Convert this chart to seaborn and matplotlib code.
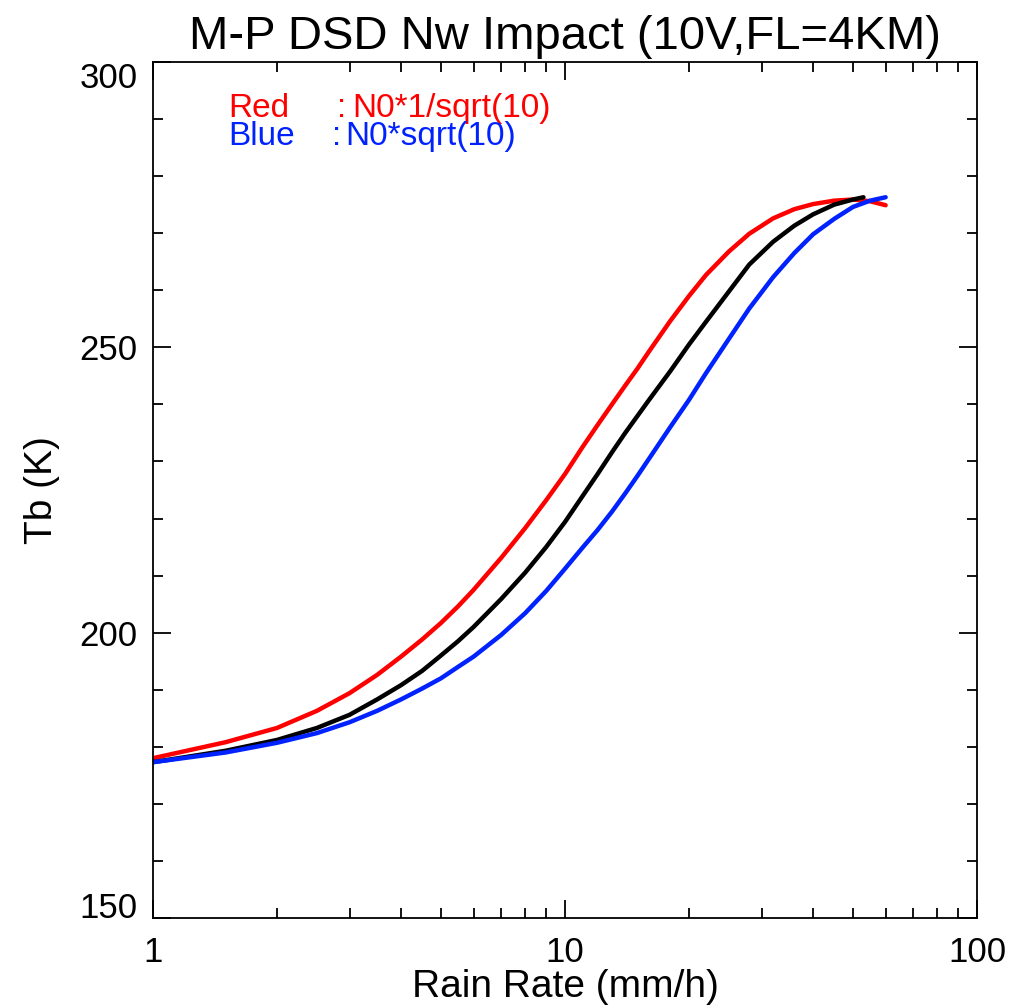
import matplotlib
matplotlib.use("Agg")
import matplotlib.pyplot as plt
import seaborn as sns
import pandas as pd
from matplotlib.ticker import LogLocator, MultipleLocator, FixedLocator, FixedFormatter

# ---- data ----
rain_red = [1, 1.5, 2, 2.5, 3, 3.5, 4, 4.5, 5, 5.5, 6, 7, 8, 9, 10, 11, 12, 13, 14, 15, 16, 18, 20,
            22, 25, 28, 32, 36, 40, 45, 50, 55, 60]
tb_red = [178.0, 180.8, 183.3, 186.3, 189.4, 192.6, 195.8, 198.8, 201.7, 204.6, 207.5, 213.1, 218.3,
          223.2, 227.8, 232.4, 236.4, 240.0, 243.3, 246.3, 249.3, 254.6, 259.0, 262.7, 266.8, 269.9,
          272.6, 274.2, 275.1, 275.7, 275.9, 275.6, 274.9]

rain_black = [1, 1.5, 2, 2.5, 3, 3.5, 4, 4.5, 5, 5.5, 6, 7, 8, 9, 10, 11, 12, 13, 14, 15, 16, 18, 20,
              22, 25, 28, 32, 36, 40, 45, 50, 53]
tb_black = [177.3, 179.3, 181.2, 183.3, 185.6, 188.3, 190.8, 193.3, 196.0, 198.5, 201.0, 205.9, 210.5,
            215.0, 219.4, 223.8, 227.8, 231.6, 235.0, 238.0, 240.8, 245.8, 250.5, 254.5, 259.8, 264.5,
            268.5, 271.3, 273.3, 275.0, 275.9, 276.3]

rain_blue = [1, 1.5, 2, 2.5, 3, 3.5, 4, 4.5, 5, 5.5, 6, 7, 8, 9, 10, 11, 12, 13, 14, 15, 16, 18, 20,
             22, 25, 28, 32, 36, 40, 45, 50, 55, 60]
tb_blue = [177.3, 179.0, 180.7, 182.4, 184.3, 186.3, 188.3, 190.2, 192.0, 194.0, 195.8, 199.6, 203.4,
           207.3, 211.2, 214.8, 218.0, 221.2, 224.4, 227.5, 230.5, 236.0, 240.8, 245.5, 251.5, 256.8,
           262.3, 266.5, 269.8, 272.5, 274.6, 275.7, 276.3]

series_names = ["N0*1/sqrt(10)", "N0", "N0*sqrt(10)"]
series_colors = ["#ff0000", "#000000", "#0022ff"]

title = "M-P DSD Nw Impact (10V,FL=4KM)"
xlabel = "Rain Rate (mm/h)"
ylabel = "Tb (K)"
xticks = [1, 10, 100]
xticklabels = ["1", "10", "100"]
yticks = [150, 200, 250, 300]
legend_names = ["Red", "Blue"]
legend_texts = ["N0*1/sqrt(10)", "N0*sqrt(10)"]

df = pd.concat([
    pd.DataFrame({"rain": rain_red, "tb": tb_red, "case": series_names[0]}),
    pd.DataFrame({"rain": rain_black, "tb": tb_black, "case": series_names[1]}),
    pd.DataFrame({"rain": rain_blue, "tb": tb_blue, "case": series_names[2]}),
])

sns.set_style("ticks")
plt.rcParams["font.family"] = ["Liberation Sans", "DejaVu Sans"]
plt.rcParams["text.color"] = "black"
plt.rcParams["axes.labelcolor"] = "black"
plt.rcParams["xtick.color"] = "black"
plt.rcParams["ytick.color"] = "black"

fig = plt.figure(figsize=(10.15, 10.08), dpi=100)
ax = fig.add_axes([0.1507, 0.0893, 0.8119, 0.8492])

sns.lineplot(data=df, x="rain", y="tb", hue="case", hue_order=series_names,
             palette=dict(zip(series_names, series_colors)), linewidth=3.2,
             legend=False, ax=ax, sort=True, estimator=None)

ax.set_xscale("log")
ax.set_xlim(1, 100)
ax.set_ylim(150, 300)
ax.xaxis.set_major_locator(FixedLocator(xticks))
ax.xaxis.set_major_formatter(FixedFormatter(xticklabels))
ax.xaxis.set_minor_locator(LogLocator(base=10, subs=range(2, 10)))
ax.yaxis.set_major_locator(FixedLocator(yticks))
ax.yaxis.set_minor_locator(MultipleLocator(10))

ax.tick_params(which="both", direction="in", top=True, right=True, width=1.3, colors="black")
ax.tick_params(which="major", length=13, labelsize=25)
ax.tick_params(axis="x", which="major", pad=13)
ax.tick_params(axis="y", which="major", pad=11)
ax.tick_params(which="minor", length=7)
for s in ax.spines.values():
    s.set_linewidth(1.3)
    s.set_color("black")

ax.set_xlabel(xlabel, fontsize=28, labelpad=0)
ax.set_ylabel(ylabel, fontsize=28, labelpad=14)
ax.set_title(title, fontsize=34, pad=9)

fig.canvas.draw()
ylabs = ax.get_yticklabels()
ylabs[0].set_va("baseline")
ylabs[-1].set_va("top")

# legend text pieces (name, colon, description)
name_x = 0.091
colon_x = [0.2233, 0.2172]
desc_x = [0.2415, 0.2330]
base_y = [0.9357, 0.9030]
leg_colors = [series_colors[0], series_colors[2]]
for i in range(2):
    kw = dict(color=leg_colors[i], fontsize=24, transform=ax.transAxes, va="baseline", ha="left")
    ax.text(name_x, base_y[i], legend_names[i], **kw)
    ax.text(colon_x[i], base_y[i], ":", **kw)
    ax.text(desc_x[i], base_y[i], legend_texts[i], **kw)

fig.savefig("out.png", dpi=100, facecolor="white")
